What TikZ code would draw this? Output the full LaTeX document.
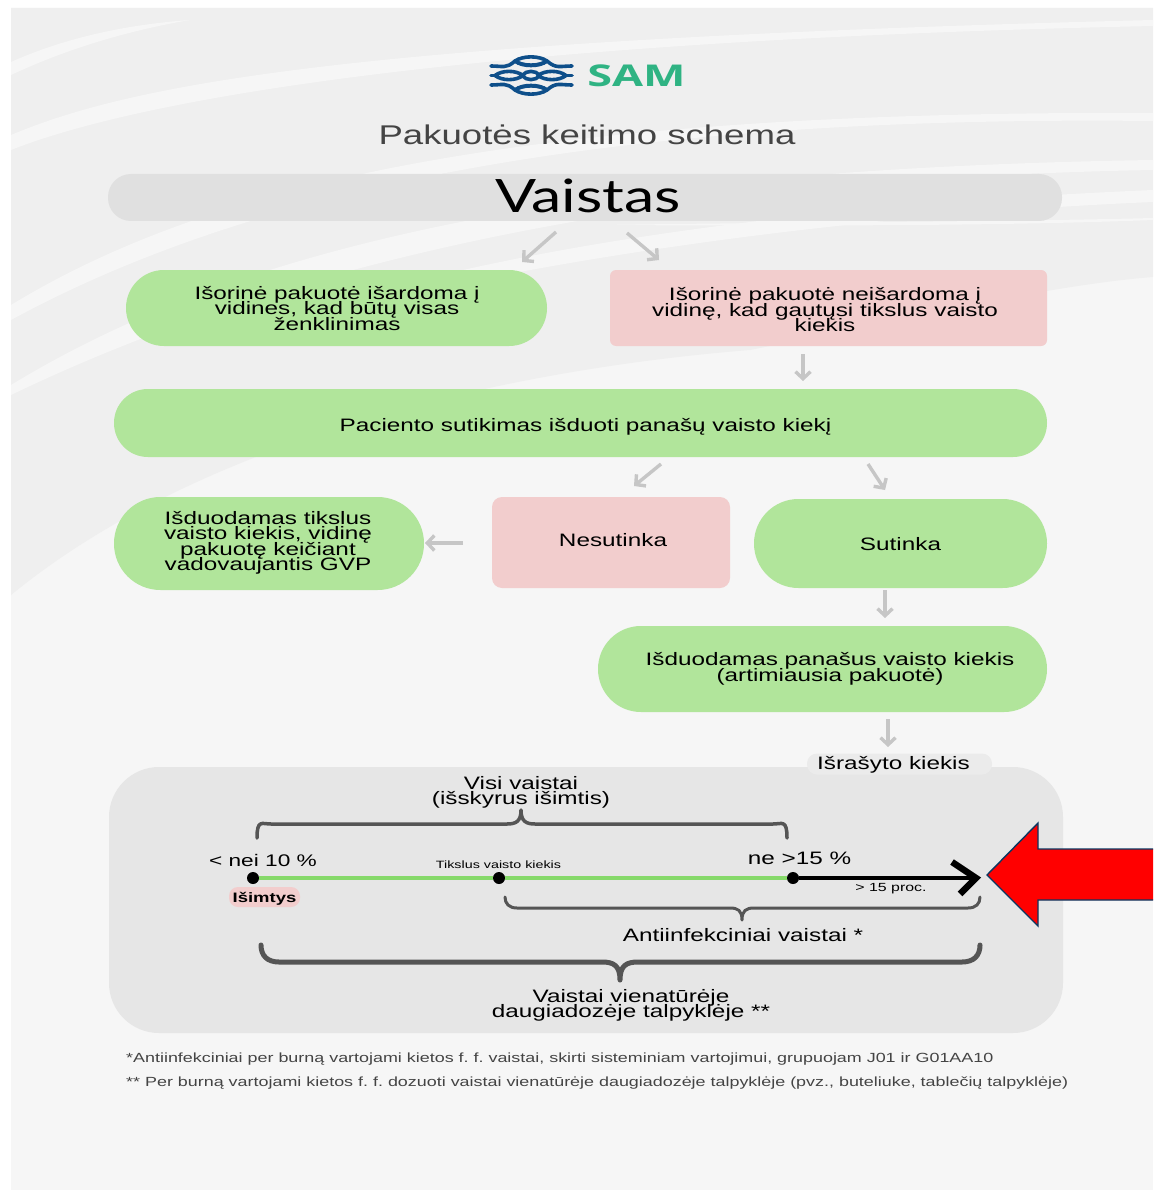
\documentclass[tikz,border=0pt]{standalone}
\usepackage{fontspec}
\setmainfont[FakeStretch=1.35]{Liberation Sans}
\newfontfamily\latofont[FakeStretch=1.32]{Lato}
\newfontfamily\samfont[FakeStretch=1.5]{Open Sans}
\usetikzlibrary{arrows.meta,calc}
\definecolor{pagebg}{HTML}{F6F6F6}
\definecolor{banddark}{HTML}{EFEFEF}
\definecolor{pillgreen}{HTML}{B1E59B}
\definecolor{boxred}{HTML}{F2CDCD}
\definecolor{pillgrey}{HTML}{E0E0E0}
\definecolor{panelgrey}{HTML}{E6E6E6}
\definecolor{arrowgrey}{HTML}{C6C6C6}
\definecolor{bracegrey}{HTML}{555555}
\definecolor{linegreen}{HTML}{86D96A}
\definecolor{samgreen}{HTML}{2FB383}
\definecolor{samblue}{HTML}{0E4F8A}
\definecolor{titlegrey}{HTML}{444444}
\newcommand\tightfont[2]{\fontsize{#1}{#2}\selectfont\lineskiplimit=-100pt\relax}
% xleft, xright, xtip, yend, ybar, ytip, radius
\newcommand\curlybrace[7]{\draw[bracepath] (#1,#4) .. controls (#1,#5-0.35*#7) and (#1+0.35*#7,#5) .. (#1+#7,#5) -- (#3-#7,#5) .. controls (#3-0.35*#7,#5) and (#3,#5+0.2*#6-0.2*#5) .. (#3,#6) .. controls (#3,#5+0.2*#6-0.2*#5) and (#3+0.35*#7,#5) .. (#3+#7,#5) -- (#2-#7,#5) .. controls (#2-0.35*#7,#5) and (#2,#5-0.35*#7) .. (#2,#4);}
\newcommand\logolens[3]{\draw[logoline] (#1-#3,#2) .. controls (#1-#3/2,#2-5.5) and (#1+#3/2,#2-5.5) .. (#1+#3,#2) .. controls (#1+#3/2,#2+5.5) and (#1-#3/2,#2+5.5) .. (#1-#3,#2) -- cycle;}
\tikzset{
  shapebox/.style={draw=none,inner sep=0pt},
  greenpill/.style={shapebox,fill=pillgreen},
  redbox/.style={shapebox,fill=boxred},
  flowarrow/.style={draw=arrowgrey,line width=3.4pt,-{Straight Barb[length=7pt,width=15pt]}},
  bracepath/.style={draw=bracegrey,line cap=round,line join=round},
  label/.style={inner sep=0pt,text=black,align=center,font=\tightfont{18}{15.5}},
  dot/.style={circle,fill=black,inner sep=0pt,minimum size=12pt},
  foot/.style={inner sep=0pt,anchor=west,text=titlegrey,font=\fontsize{13.27}{16}\selectfont\frenchspacing},
  logoline/.style={draw=samblue,line width=3.6pt,line join=round,line cap=round}
}
\begin{document}
\begin{tikzpicture}[x=1pt,y=-1pt]
\useasboundingbox (0,0) rectangle (1153,1190);
\fill[white] (0,0) rectangle (1153,1190);
\begin{scope}
\clip (11,8) rectangle (1153,1190);
\fill[pagebg] (11,8) rectangle (1153,1190);
\fill[banddark] (11,8) -- (1153,8) -- (1153,277) .. controls (1050,285) and (900,320) .. (750,350) .. controls (500,370) and (200,440) .. (11,595) -- cycle;
\fill[pagebg] (11,62) .. controls (60,40) and (120,25) .. (190,20) .. controls (120,32) and (60,52) .. (11,75) -- cycle;
\fill[pagebg] (11,135) .. controls (130,85) and (350,40) .. (1153,20) -- (1153,26) .. controls (500,40) and (150,95) .. (11,150) -- cycle;
\fill[pagebg] (11,305) .. controls (200,190) and (500,110) .. (1153,113) -- (1153,121) .. controls (600,115) and (250,190) .. (11,320) -- cycle;
\fill[pagebg] (11,385) .. controls (200,270) and (500,170) .. (1153,160) -- (1153,170) .. controls (600,180) and (250,280) .. (11,395) -- cycle;
\fill[pagebg] (230,340) .. controls (450,250) and (800,205) .. (1153,190) -- (1153,202) .. controls (850,215) and (500,260) .. (230,340) -- cycle;
\fill[pagebg] (600,225) .. controls (800,222) and (1000,222) .. (1153,218) -- (1153,220) .. controls (1000,226) and (800,226) .. (600,225) -- cycle;
\end{scope}

% logo
\logolens{531}{61}{16}
\logolens{531}{90}{16}
\logolens{509}{75.5}{14}
\logolens{552}{75.5}{14}
\logolens{531}{75.5}{9}
\draw[logoline] (491,66) .. controls (503,66) and (506,69) .. (515,61) .. controls (522,67) and (540,67) .. (547,61) .. controls (556,69) and (560,66) .. (572,66);
\draw[logoline] (491,85) .. controls (503,85) and (506,82) .. (515,90) .. controls (522,84) and (540,84) .. (547,90) .. controls (556,82) and (560,85) .. (572,85);
\draw[logoline] (491,75.5) -- (495,75.5);
\draw[logoline] (566,75.5) -- (572,75.5);
\node[inner sep=0pt,text=samgreen] (sam) at (636.5,76) {\samfont\bfseries\fontsize{30}{30}\selectfont SAM};

\node[inner sep=0pt,text=titlegrey,font=\fontsize{27.1}{32}\selectfont] (title) at (587,135) {Pakuotės keitimo schema};

\node[shapebox,fill=pillgrey,minimum width=954pt,minimum height=47pt,rounded corners=23pt] (vaistas) at (585,197.5) {};
\node[inner sep=0pt,text=black] (vaistastext) at (588,196) {\latofont\fontsize{46}{46}\selectfont Vaistas};

\node[greenpill,minimum width=421pt,minimum height=76pt,rounded corners=37.9pt] (isard) at (336.5,308) {};
\node[redbox,minimum width=437pt,minimum height=76pt,rounded corners=6pt] (neisard) at (828.5,308) {};
\node[greenpill,minimum width=933pt,minimum height=68pt,rounded corners=33.9pt] (sutikimas) at (580.5,423) {};
\node[greenpill,minimum width=310pt,minimum height=93pt,rounded corners=46.4pt] (tikslus) at (269,543.5) {};
\node[redbox,minimum width=238pt,minimum height=91pt,rounded corners=10pt] (nesutinka) at (611,542.5) {};
\node[greenpill,minimum width=293pt,minimum height=89pt,rounded corners=44.4pt] (sutinka) at (900.5,543.5) {};
\node[greenpill,minimum width=449pt,minimum height=86pt,rounded corners=42.9pt] (panasus) at (822.5,669) {};

\node[label] (isardt) at (337,308.5) {Išorinė pakuotė išardoma į\\vidines, kad būtų visas\\ženklinimas};
\node[label] (neisardt) at (825,310) {Išorinė pakuotė neišardoma į\\vidinę, kad gautųsi tikslus vaisto\\kiekis};
\node[label] (sutikimast) at (585.5,426.5) {Paciento sutikimas išduoti panašų vaisto kiekį};
\node[label] (tikslust) at (268,543) {Išduodamas tikslus\\vaisto kiekis, vidinę\\pakuotę keičiant\\vadovaujantis GVP};
\node[label] (nesutinkat) at (613,540.5) {Nesutinka};
\node[label] (sutinkat) at (900.5,544.5) {Sutinka};
\node[label] (panasust) at (830,669) {Išduodamas panašus vaisto kiekis\\(artimiausia pakuotė)};

% panel
\node[shapebox,fill=panelgrey,minimum width=954pt,minimum height=266pt,rounded corners=50pt] (panel) at (586,900) {};
\node[shapebox,fill=panelgrey!70!pagebg,minimum width=185pt,minimum height=21pt,rounded corners=10pt] (israsyto) at (899.5,764) {};
\node[label] (israsytot) at (893.5,764.5) {Išrašyto kiekis};

% grey arrows
\coordinate (a1s) at (556,232); \coordinate (a1e) at (522,262);
\coordinate (a2s) at (627,233); \coordinate (a2e) at (659,260);
\coordinate (a3s) at (803,354); \coordinate (a3e) at (803,381);
\coordinate (a4s) at (661,464); \coordinate (a4e) at (634,486);
\coordinate (a5s) at (868,464); \coordinate (a5e) at (885,490);
\coordinate (a6s) at (463,543); \coordinate (a6e) at (425,543);
\coordinate (a7s) at (885,590); \coordinate (a7e) at (885,618);
\coordinate (a8s) at (888,719); \coordinate (a8e) at (888,747);
\draw[flowarrow] (a1s) -- (a1e);
\draw[flowarrow] (a2s) -- (a2e);
\draw[flowarrow] (a3s) -- (a3e);
\draw[flowarrow] (a4s) -- (a4e);
\draw[flowarrow] (a5s) -- (a5e);
\draw[flowarrow] (a6s) -- (a6e);
\draw[flowarrow] (a7s) -- (a7e);
\draw[flowarrow] (a8s) -- (a8e);

% timeline
\node[dot] (d1) at (253,878) {};
\node[dot] (d2) at (499,878) {};
\node[dot] (d3) at (793,878) {};
\coordinate (tipc) at (976,878);
\coordinate (tiptop) at (952,862);
\coordinate (tipbot) at (960,894);
\draw[linegreen,line width=4.5pt] (d1) -- (d2);
\draw[linegreen,line width=4.5pt] (d2) -- (d3);
\draw[black,line width=4.5pt] (d3) -- (tipc);
\draw[black,line width=6.5pt,line join=miter] (tiptop) -- (tipc) -- (tipbot);

\node[label,font=\tightfont{16.8}{16}] (nei) at (263,860.5) {< nei 10 \%};
\node[label] (ne) at (799.5,858.5) {ne >15 \%};
\node[label,font=\tightfont{10.6}{13}] (tiksl) at (498.5,865) {Tikslus vaisto kiekis};
\node[label,font=\tightfont{11.8}{14}] (proc) at (891,889) {> 15 proc.};
\node[shapebox,fill=boxred,minimum width=71pt,minimum height=20pt,rounded corners=9pt] (isimtys) at (264.5,897) {};
\node[label,font=\bfseries\tightfont{13.7}{16}] (isimtyst) at (264.5,898.5) {Išimtys};

\node[label] (visi) at (521,792.5) {Visi vaistai\\(išskyrus išimtis)};
\node[label] (anti) at (743,935.5) {Antiinfekciniai vaistai *};
\node[label] (vien) at (631,1005.5) {Vaistai vienatūrėje\\daugiadozėje talpyklėje **};

% braces
\begin{scope}[line width=3.5pt]\curlybrace{257}{787}{521}{838}{824}{810}{14}\end{scope}
\begin{scope}[line width=3pt]\curlybrace{505}{980}{742}{897}{908}{920}{12}\end{scope}
\begin{scope}[line width=5pt]\curlybrace{261}{980}{620}{945}{962}{980}{18}\end{scope}

% red arrow
\draw[draw=samblue!70!black,fill=red,line width=1.4pt,line join=miter] (1153,849) -- (1038,849) -- (1038,823) -- (987,875) -- (1038,926) -- (1038,900) -- (1153,900);

\node[foot] (f1) at (126,1059) {*Antiinfekciniai per burną vartojami kietos f. f. vaistai, skirti sisteminiam vartojimui, grupuojam J01 ir G01AA10};
\node[foot] (f2) at (126,1083) {** Per burną vartojami kietos f. f. dozuoti vaistai vienatūrėje daugiadozėje talpyklėje (pvz., buteliuke, tablečių talpyklėje)};
\end{tikzpicture}
\end{document}
